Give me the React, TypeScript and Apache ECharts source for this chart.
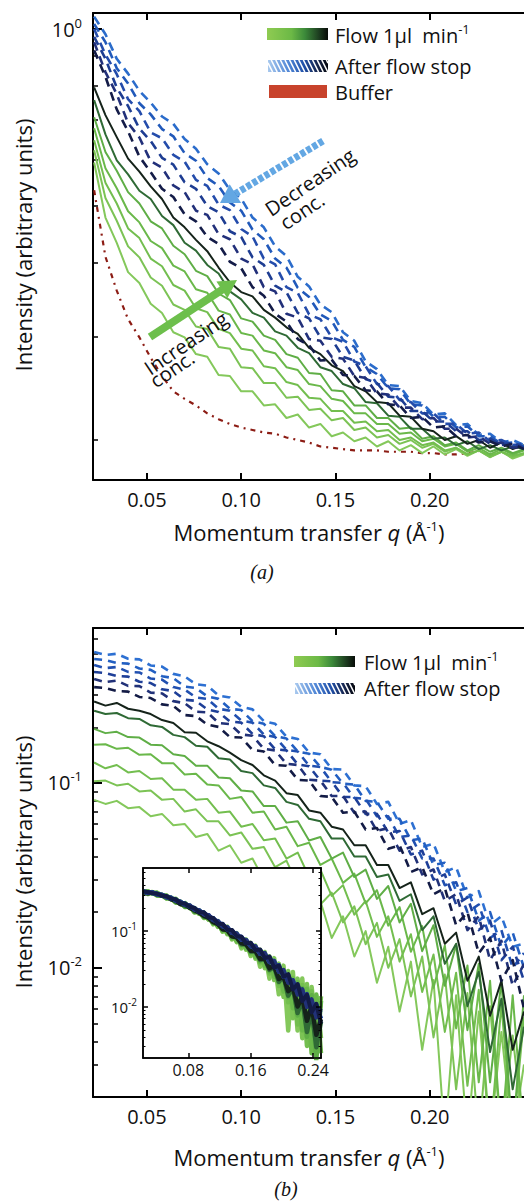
import { useEffect, useRef } from 'react';
import * as echarts from 'echarts';

// ---------- shared q grid (Å^-1) ----------
const q = [0.022, 0.028, 0.034, 0.040, 0.046, 0.052, 0.058, 0.064, 0.070, 0.076, 0.082, 0.088, 0.094, 0.100, 0.106, 0.112, 0.118, 0.124, 0.130, 0.136, 0.142, 0.148, 0.154, 0.160, 0.166, 0.172, 0.178, 0.184, 0.190, 0.196, 0.202, 0.208, 0.214, 0.220, 0.226, 0.232, 0.238, 0.244, 0.250];

// ---------- panel (a) ----------
const aBuffer = [0.532, 0.410, 0.359, 0.321, 0.299, 0.276, 0.257, 0.242, 0.235, 0.229, 0.222, 0.217, 0.213, 0.210, 0.208, 0.206, 0.205, 0.202, 0.200, 0.198, 0.195, 0.194, 0.193, 0.192, 0.192, 0.192, 0.191, 0.191, 0.191, 0.190, 0.190, 0.189, 0.189, 0.190, 0.191];
const aG1 = [0.593, 0.478, 0.433, 0.386, 0.370, 0.341, 0.329, 0.305, 0.299, 0.280, 0.277, 0.258, 0.257, 0.242, 0.242, 0.229, 0.230, 0.218, 0.221, 0.210, 0.213, 0.203, 0.206, 0.199, 0.202, 0.195, 0.199, 0.192, 0.196, 0.190, 0.195, 0.189, 0.193, 0.188, 0.192, 0.187, 0.191, 0.186, 0.189];
const aG2 = [0.622, 0.516, 0.472, 0.427, 0.409, 0.378, 0.366, 0.340, 0.333, 0.312, 0.309, 0.288, 0.286, 0.266, 0.265, 0.250, 0.250, 0.236, 0.237, 0.225, 0.226, 0.216, 0.218, 0.208, 0.210, 0.202, 0.204, 0.197, 0.200, 0.194, 0.197, 0.191, 0.194, 0.189, 0.192, 0.187, 0.191, 0.187, 0.190];
const aG3 = [0.647, 0.548, 0.505, 0.458, 0.441, 0.407, 0.395, 0.367, 0.359, 0.335, 0.330, 0.309, 0.304, 0.286, 0.284, 0.267, 0.265, 0.251, 0.248, 0.236, 0.235, 0.224, 0.224, 0.214, 0.215, 0.207, 0.208, 0.200, 0.202, 0.196, 0.198, 0.192, 0.194, 0.189, 0.192, 0.188, 0.191, 0.188, 0.190];
const aG4 = [0.678, 0.580, 0.536, 0.490, 0.469, 0.436, 0.424, 0.396, 0.387, 0.361, 0.356, 0.332, 0.327, 0.304, 0.301, 0.284, 0.281, 0.266, 0.263, 0.249, 0.247, 0.235, 0.233, 0.222, 0.222, 0.213, 0.213, 0.205, 0.206, 0.199, 0.201, 0.195, 0.197, 0.191, 0.194, 0.189, 0.193, 0.189, 0.192];
const aG5 = [0.708, 0.618, 0.574, 0.528, 0.505, 0.471, 0.458, 0.428, 0.414, 0.388, 0.380, 0.355, 0.346, 0.322, 0.318, 0.301, 0.296, 0.280, 0.276, 0.260, 0.259, 0.243, 0.242, 0.229, 0.229, 0.218, 0.218, 0.209, 0.210, 0.201, 0.203, 0.196, 0.198, 0.192, 0.196, 0.191, 0.194, 0.190, 0.193];
const aDark = [0.757, 0.662, 0.598, 0.566, 0.531, 0.514, 0.481, 0.464, 0.433, 0.420, 0.397, 0.384, 0.358, 0.347, 0.329, 0.323, 0.306, 0.301, 0.287, 0.281, 0.266, 0.262, 0.249, 0.245, 0.232, 0.231, 0.220, 0.219, 0.209, 0.209, 0.201, 0.202, 0.196, 0.199, 0.193, 0.196, 0.192, 0.195, 0.193];
const aBlack = [0.796, 0.714, 0.655, 0.602, 0.572, 0.540, 0.514, 0.478, 0.460, 0.438, 0.419, 0.393, 0.371, 0.357, 0.351, 0.333, 0.323, 0.311, 0.303, 0.287, 0.280, 0.268, 0.262, 0.247, 0.242, 0.232, 0.231, 0.220, 0.219, 0.209, 0.207, 0.200, 0.203, 0.197, 0.200, 0.194, 0.198, 0.193, 0.196];
const aD1 = [1.05, 0.98, 0.89, 0.84, 0.785, 0.75, 0.71, 0.69, 0.65, 0.626, 0.589, 0.568, 0.533, 0.515, 0.478, 0.460, 0.427, 0.411, 0.379, 0.365, 0.340, 0.330, 0.305, 0.295, 0.272, 0.264, 0.248, 0.247, 0.233, 0.231, 0.221, 0.222, 0.212, 0.213, 0.204, 0.205, 0.198, 0.200, 0.196];
const aD2 = [1.02, 0.95, 0.858, 0.808, 0.748, 0.716, 0.676, 0.657, 0.615, 0.597, 0.558, 0.541, 0.507, 0.491, 0.456, 0.439, 0.407, 0.393, 0.363, 0.350, 0.327, 0.319, 0.296, 0.288, 0.266, 0.259, 0.245, 0.244, 0.230, 0.229, 0.219, 0.219, 0.210, 0.211, 0.203, 0.203, 0.197, 0.198, 0.195];
const aD3 = [1.00, 0.905, 0.838, 0.760, 0.725, 0.667, 0.652, 0.611, 0.595, 0.554, 0.541, 0.503, 0.492, 0.457, 0.444, 0.407, 0.398, 0.364, 0.356, 0.327, 0.321, 0.299, 0.294, 0.272, 0.267, 0.249, 0.247, 0.234, 0.232, 0.222, 0.222, 0.213, 0.213, 0.205, 0.206, 0.199, 0.200, 0.196, 0.197];
const aD4 = [0.97, 0.89, 0.795, 0.740, 0.677, 0.645, 0.604, 0.588, 0.549, 0.535, 0.500, 0.488, 0.453, 0.443, 0.409, 0.397, 0.366, 0.357, 0.329, 0.322, 0.299, 0.297, 0.277, 0.273, 0.254, 0.250, 0.237, 0.236, 0.224, 0.224, 0.215, 0.215, 0.207, 0.207, 0.200, 0.201, 0.196, 0.198, 0.194];
const aD5 = [0.95, 0.845, 0.775, 0.692, 0.654, 0.596, 0.581, 0.542, 0.528, 0.491, 0.483, 0.448, 0.439, 0.407, 0.398, 0.364, 0.358, 0.328, 0.323, 0.297, 0.295, 0.277, 0.275, 0.257, 0.255, 0.240, 0.239, 0.227, 0.227, 0.217, 0.218, 0.209, 0.209, 0.202, 0.203, 0.197, 0.198, 0.194, 0.195];
const aD6 = [0.92, 0.83, 0.73, 0.67, 0.607, 0.571, 0.535, 0.518, 0.484, 0.471, 0.443, 0.431, 0.402, 0.392, 0.364, 0.352, 0.328, 0.318, 0.297, 0.290, 0.273, 0.274, 0.258, 0.257, 0.243, 0.242, 0.230, 0.229, 0.218, 0.219, 0.210, 0.211, 0.203, 0.204, 0.198, 0.199, 0.195, 0.197, 0.193];

// ---------- panel (b) ----------
const bG1 = [0.081, 0.077, 0.080, 0.073, 0.074, 0.066, 0.068, 0.059, 0.060, 0.051, 0.053, 0.043, 0.046, 0.037, 0.039, 0.030, 0.033, 0.024, 0.028, 0.019, 0.023, 0.0145, 0.019, 0.0115, 0.0158, 0.0083, 0.013, 0.0058, 0.0108, 0.0036, 0.0086, 0.0012, 0.0071, 0.0012, 0.0058, 0.0012, 0.0045, 0.0012, 0.003];
const bG2 = [0.102, 0.103, 0.097, 0.099, 0.090, 0.091, 0.081, 0.082, 0.070, 0.072, 0.062, 0.062, 0.052, 0.054, 0.044, 0.045, 0.035, 0.038, 0.028, 0.031, 0.022, 0.0255, 0.0176, 0.0215, 0.0134, 0.0175, 0.010, 0.0143, 0.007, 0.0115, 0.0042, 0.0092, 0.0022, 0.0073, 0.0012, 0.0062, 0.0012, 0.0043, 0.0012];
const bG3 = [0.129, 0.120, 0.125, 0.114, 0.116, 0.105, 0.106, 0.092, 0.092, 0.081, 0.082, 0.069, 0.070, 0.058, 0.060, 0.049, 0.050, 0.039, 0.042, 0.031, 0.034, 0.0245, 0.028, 0.0194, 0.023, 0.0147, 0.019, 0.0108, 0.0152, 0.0074, 0.0118, 0.0045, 0.0094, 0.0023, 0.0076, 0.0012, 0.0063, 0.0012, 0.0054];
const bG4 = [0.161, 0.162, 0.153, 0.155, 0.142, 0.143, 0.128, 0.128, 0.111, 0.112, 0.098, 0.097, 0.082, 0.084, 0.069, 0.070, 0.056, 0.058, 0.0455, 0.0475, 0.036, 0.039, 0.0288, 0.0323, 0.0223, 0.0263, 0.0169, 0.0213, 0.0122, 0.0168, 0.0078, 0.0132, 0.0047, 0.0103, 0.0024, 0.0085, 0.0012, 0.0071, 0.0012];
const bG5 = [0.196, 0.186, 0.189, 0.177, 0.176, 0.161, 0.160, 0.143, 0.140, 0.124, 0.124, 0.107, 0.106, 0.091, 0.090, 0.075, 0.075, 0.061, 0.062, 0.0488, 0.051, 0.039, 0.042, 0.031, 0.034, 0.0236, 0.0277, 0.0176, 0.0222, 0.0123, 0.017, 0.008, 0.0133, 0.0046, 0.0105, 0.0024, 0.0085, 0.0012, 0.0071];
const bDark = [0.246, 0.236, 0.239, 0.224, 0.222, 0.205, 0.201, 0.182, 0.177, 0.159, 0.157, 0.136, 0.134, 0.116, 0.113, 0.097, 0.094, 0.079, 0.076, 0.064, 0.062, 0.050, 0.050, 0.040, 0.040, 0.031, 0.032, 0.023, 0.025, 0.016, 0.019, 0.0105, 0.0135, 0.0062, 0.0095, 0.0035, 0.0068, 0.0022, 0.0048];
const bBlack = [0.276, 0.262, 0.271, 0.252, 0.246, 0.236, 0.219, 0.211, 0.188, 0.187, 0.168, 0.158, 0.146, 0.133, 0.125, 0.110, 0.103, 0.088, 0.086, 0.071, 0.069, 0.058, 0.056, 0.046, 0.046, 0.036, 0.036, 0.027, 0.029, 0.0195, 0.021, 0.0135, 0.0155, 0.0085, 0.0115, 0.0055, 0.0085, 0.0036, 0.0058];
const bD1 = [0.511, 0.492, 0.500, 0.470, 0.466, 0.432, 0.426, 0.389, 0.377, 0.342, 0.336, 0.297, 0.290, 0.258, 0.250, 0.216, 0.209, 0.178, 0.173, 0.146, 0.143, 0.119, 0.118, 0.097, 0.096, 0.077, 0.079, 0.060, 0.063, 0.045, 0.047, 0.033, 0.035, 0.024, 0.026, 0.017, 0.019, 0.013, 0.0135];
const bD2 = [0.468, 0.462, 0.446, 0.442, 0.416, 0.409, 0.378, 0.369, 0.332, 0.326, 0.294, 0.285, 0.252, 0.248, 0.216, 0.209, 0.179, 0.174, 0.148, 0.144, 0.122, 0.118, 0.099, 0.098, 0.080, 0.079, 0.064, 0.064, 0.049, 0.050, 0.036, 0.037, 0.026, 0.027, 0.018, 0.020, 0.013, 0.0155, 0.010];
const bD3 = [0.434, 0.418, 0.424, 0.399, 0.396, 0.367, 0.362, 0.330, 0.320, 0.290, 0.285, 0.252, 0.246, 0.218, 0.212, 0.183, 0.177, 0.151, 0.148, 0.124, 0.122, 0.101, 0.100, 0.083, 0.082, 0.066, 0.066, 0.051, 0.052, 0.039, 0.039, 0.028, 0.029, 0.020, 0.022, 0.0145, 0.016, 0.010, 0.012];
const bD4 = [0.398, 0.393, 0.379, 0.376, 0.353, 0.347, 0.321, 0.314, 0.282, 0.278, 0.250, 0.242, 0.215, 0.212, 0.184, 0.179, 0.152, 0.150, 0.126, 0.123, 0.103, 0.102, 0.084, 0.084, 0.068, 0.068, 0.054, 0.055, 0.041, 0.043, 0.030, 0.032, 0.022, 0.024, 0.016, 0.018, 0.011, 0.013, 0.0085];
const bD5 = [0.365, 0.351, 0.358, 0.335, 0.334, 0.308, 0.305, 0.277, 0.270, 0.243, 0.241, 0.211, 0.208, 0.183, 0.180, 0.153, 0.150, 0.127, 0.125, 0.104, 0.103, 0.085, 0.085, 0.069, 0.070, 0.055, 0.057, 0.043, 0.045, 0.032, 0.034, 0.023, 0.025, 0.016, 0.019, 0.011, 0.014, 0.008, 0.0105];
const bD6 = [0.330, 0.326, 0.314, 0.312, 0.292, 0.288, 0.266, 0.261, 0.233, 0.230, 0.207, 0.201, 0.177, 0.176, 0.151, 0.148, 0.125, 0.124, 0.104, 0.103, 0.085, 0.084, 0.069, 0.070, 0.056, 0.057, 0.044, 0.046, 0.033, 0.035, 0.025, 0.027, 0.017, 0.020, 0.012, 0.0145, 0.0085, 0.011, 0.006];

// inset: every panel (b) curve rescaled to this common start intensity
const insetStart = 0.33;

// ---------- ticks ----------
const xTicks = [0.05, 0.1, 0.15, 0.2];
const aMinor = [0.2, 0.3, 0.4, 0.5, 0.6, 0.7, 0.8, 0.9];
const aMajor = [1];
const bMinor = [0.003, 0.004, 0.005, 0.006, 0.007, 0.008, 0.009, 0.02, 0.03, 0.04, 0.05, 0.06, 0.07, 0.08, 0.09, 0.2, 0.3, 0.4, 0.5, 0.6];
const bMajor = [0.01, 0.1];
const insetXTicks = [0.08, 0.16, 0.24];

// colours
const greenCols = ['#84c85b', '#7cc355', '#73be4f', '#6ab84a', '#5fae46'];
const darkGreen = '#2f6a35';
const nearBlack = '#15231a';
const blueColsA = ['#2b6ccb', '#2159ba', '#244cab', '#1e3d92', '#22307a', '#141c48'];
const blueColsB = ['#2d70d2', '#225fc2', '#2150b0', '#1e3f98', '#213178', '#131b45'];

const FONT = '"Open Sans", "Noto Sans", sans-serif';
const INK = '#111';

export default function App() {
  const ref = useRef<HTMLDivElement>(null);

  useEffect(() => {
    if (!ref.current) return;
    const chart = echarts.init(ref.current, null, { renderer: 'svg' });

    const pairs = (arr: number[]) => arr.map((v, i) => [q[i], v]);
    const norm = (arr: number[]) => arr.map((v, i) => [q[i], (v * insetStart) / arr[0]]);
    const line = (data: number[][], xi: number, yi: number, color: string, width: number, type: any = 'solid', z = 2) => ({
      type: 'line', xAxisIndex: xi, yAxisIndex: yi, data, showSymbol: false, symbol: 'none', silent: true, z,
      lineStyle: { color, width, type, cap: 'butt', join: 'round' }, emphasis: { disabled: true },
    });

    const logFmt = (v: number) => `{n|10}{s|${Math.round(Math.log10(v))}}`;
    const richBig = {
      n: { fontSize: 20, fontFamily: FONT, color: INK, lineHeight: 26 },
      s: { fontSize: 13, fontFamily: FONT, color: INK, lineHeight: 12, verticalAlign: 'top' },
    };
    const richSmall = {
      n: { fontSize: 15, fontFamily: FONT, color: INK, lineHeight: 20 },
      s: { fontSize: 10, fontFamily: FONT, color: INK, lineHeight: 9, verticalAlign: 'top' },
    };

    const axLine = (w: number) => ({ show: true, onZero: false, lineStyle: { color: '#000', width: w } });
    const XMIN = 0.0214, XMAX = 0.25;

    const xMain = (grid: number, pos: string, labels: boolean) => ({
      type: 'value', gridIndex: grid, position: pos, min: XMIN, max: XMAX,
      axisLine: axLine(2),
      axisTick: { show: true, inside: true, length: 7, lineStyle: { color: '#000', width: 2 }, customValues: xTicks },
      axisLabel: labels
        ? { show: true, customValues: xTicks, formatter: (v: number) => v.toFixed(2), fontSize: 20, fontFamily: FONT, color: INK, margin: 9 }
        : { show: false },
      splitLine: { show: false },
    });
    const xInset = (pos: string, labels: boolean) => ({
      type: 'value', gridIndex: 2, position: pos, min: 0.022, max: 0.25, z: 12,
      axisLine: axLine(1.5),
      axisTick: { show: true, inside: true, length: 5, lineStyle: { color: '#000', width: 1.5 }, customValues: insetXTicks },
      axisLabel: labels
        ? { show: true, customValues: insetXTicks, formatter: (v: number) => v.toFixed(2), fontSize: 16, fontFamily: FONT, color: INK, margin: 4 }
        : { show: false },
      splitLine: { show: false },
    });
    const yLog = (grid: number, pos: string, min: number, max: number, ticks: number[], len: number, w: number, showLine: boolean, labels: any, z = 0) => ({
      type: 'log', logBase: 10, gridIndex: grid, position: pos, min, max, z,
      axisLine: showLine ? axLine(grid === 2 ? 1.5 : 2) : { show: false },
      axisTick: { show: true, inside: true, length: len, lineStyle: { color: '#000', width: w }, customValues: ticks },
      axisLabel: labels || { show: false },
      splitLine: { show: false },
      minorTick: { show: false },
    });

    const A_MIN = 0.171, A_MAX = 1.065;
    const B_MIN = 0.002, B_MAX = 0.689;
    const I_MIN = 0.00213, I_MAX = 0.675;
    const insetMinor = bMinor;

    const series: any[] = [];
    // panel a
    series.push(line(pairs(aBuffer), 0, 0, '#8c1c14', 2.2, [5, 5, 2, 5]));
    [aG1, aG2, aG3, aG4, aG5].forEach((a, i) => series.push(line(pairs(a), 0, 0, greenCols[i], 2)));
    series.push(line(pairs(aDark), 0, 0, darkGreen, 2));
    series.push(line(pairs(aBlack), 0, 0, nearBlack, 2));
    [aD1, aD2, aD3, aD4, aD5, aD6].forEach((a, i) => series.push(line(pairs(a), 0, 0, blueColsA[i], 2.6, [9, 6])));
    // panel b
    const bGreens = [bG1, bG2, bG3, bG4, bG5];
    const bBlues = [bD1, bD2, bD3, bD4, bD5, bD6];
    bGreens.forEach((a, i) => series.push(line(pairs(a), 2, 2, greenCols[i], 2)));
    series.push(line(pairs(bDark), 2, 2, darkGreen, 2));
    series.push(line(pairs(bBlack), 2, 2, nearBlack, 2));
    bBlues.forEach((a, i) => series.push(line(pairs(a), 2, 2, blueColsB[i], 2.6, [8, 6])));
    // inset
    bGreens.forEach((a, i) => series.push(line(norm(a), 4, 4, greenCols[i], 4.5, 'solid', 11)));
    series.push(line(norm(bDark), 4, 4, darkGreen, 4.5, 'solid', 11));
    series.push(line(norm(bBlack), 4, 4, nearBlack, 4.5, 'solid', 11));
    bBlues.forEach((a, i) => series.push(line(norm(a), 4, 4, blueColsB[i], 4, 'solid', 11)));

    // ----- graphics -----
    const greenGrad = { type: 'linear', x: 0, y: 0, x2: 1, y2: 0, colorStops: [
      { offset: 0, color: '#8fcb52' }, { offset: 0.4, color: '#6cb946' }, { offset: 0.62, color: '#3c8a3a' },
      { offset: 0.85, color: '#1d3d20' }, { offset: 1, color: '#080c08' }] };
    const hatchGrad = { type: 'linear', x: 0, y: 0, x2: 1, y2: 0, colorStops: [
      { offset: 0, color: '#a9c9ee' }, { offset: 0.35, color: '#4f86d6' }, { offset: 0.6, color: '#1f4fa8' },
      { offset: 0.82, color: '#17264f' }, { offset: 1, color: '#05070c' }] };
    const Z = 100;
    const hatch = (x: number, y: number, w: number, h: number) => {
      const els: any[] = [{ type: 'rect', z: Z, shape: { x, y, width: w, height: h }, style: { fill: hatchGrad } }];
      const slant = h * 0.5, step = 4.6;
      for (let x0 = x - slant; x0 < x + w; x0 += step) {
        const t0 = Math.max(0, (x - x0) / slant), t1 = Math.min(1, (x + w - x0) / slant);
        if (t1 <= t0) continue;
        els.push({ type: 'line', z: Z + 1, shape: { x1: x0 + slant * t0, y1: y + h * t0, x2: x0 + slant * t1, y2: y + h * t1 },
          style: { stroke: '#fff', lineWidth: 1.6 } });
      }
      return els;
    };
    const txt = (text: string, x: number, y: number, opts: any = {}) => ({
      type: 'text', z: Z, x, y, rotation: opts.rotation || 0,
      style: {
        text, fontSize: opts.fontSize || 20, fontFamily: opts.fontFamily || FONT, fontStyle: opts.fontStyle || 'normal',
        fill: INK, align: opts.align || 'left', verticalAlign: 'middle', lineHeight: opts.lineHeight || 26,
        rich: {
          s: { fontSize: 13, fontFamily: FONT, fill: INK, lineHeight: 12, verticalAlign: 'top' },
          i: { fontSize: opts.fontSize || 20, fontFamily: FONT, fontStyle: 'italic', fill: INK, lineHeight: 26 },
        },
      },
    });
    const rot = (34 * Math.PI) / 180;
    const xTitle = 'Momentum transfer {i|q} (Å{s|-1})';
    const yTitle = 'Intensity (arbitrary units)';

    const graphics: any[] = [
      // legend (a)
      { type: 'rect', z: Z, shape: { x: 267, y: 28, width: 61, height: 12 }, style: { fill: greenGrad } },
      txt('Flow 1µl  min{s|-1}', 335, 35),
      ...hatch(268, 60, 60, 12),
      txt('After flow stop', 335, 66),
      { type: 'rect', z: Z, shape: { x: 269, y: 85, width: 58, height: 13 }, style: { fill: '#c8432c' } },
      txt('Buffer', 335, 92),
      // legend (b)
      { type: 'rect', z: Z, shape: { x: 294, y: 656, width: 61, height: 11 }, style: { fill: greenGrad } },
      txt('Flow 1µl  min{s|-1}', 364, 662),
      ...hatch(295, 683, 60, 11),
      txt('After flow stop', 364, 688),
      // arrows (a)
      { type: 'line', z: Z, shape: { x1: 150, y1: 337, x2: 222.5, y2: 289.5 }, style: { stroke: '#6dbf4c', lineWidth: 8 } },
      { type: 'polygon', z: Z, shape: { points: [[237, 280], [227.4, 298.3], [216.4, 281.5]] }, style: { fill: '#6dbf4c' } },
      { type: 'line', z: Z, shape: { x1: 323, y1: 141, x2: 235.4, y2: 193.7 }, style: { stroke: '#63a7e3', lineWidth: 7, lineDash: [5, 2] } },
      { type: 'polygon', z: Z, shape: { points: [[220, 203], [241.1, 203.1], [229.7, 184.3]] }, style: { fill: '#63a7e3' } },
      txt('Increasing', 186, 343, { align: 'center', rotation: rot }),
      txt('conc.', 172, 369, { align: 'center', rotation: rot }),
      txt('Decreasing', 310, 182, { align: 'center', rotation: rot }),
      txt('conc.', 302, 211, { align: 'center', rotation: rot }),
      // axis titles
      txt(xTitle, 309, 532, { align: 'center', fontSize: 22 }),
      txt(yTitle, 23, 245, { align: 'center', fontSize: 22, rotation: Math.PI / 2 }),
      txt('(a)', 262, 572, { align: 'center', fontSize: 20, lineHeight: 20, fontFamily: '"Liberation Serif", serif', fontStyle: 'italic' }),
      txt(xTitle, 309, 1157, { align: 'center', fontSize: 22 }),
      txt(yTitle, 23, 862, { align: 'center', fontSize: 22, rotation: Math.PI / 2 }),
      txt('(b)', 286, 1189, { align: 'center', fontSize: 20, lineHeight: 20, fontFamily: '"Liberation Serif", serif', fontStyle: 'italic' }),
    ];

    chart.setOption({
      animation: false,
      backgroundColor: '#fff',
      grid: [
        { left: 93, top: 13, width: 439, height: 467 },
        { left: 93, top: 628, width: 439, height: 469 },
        { left: 143, top: 868, width: 178, height: 190, show: true, backgroundColor: '#fff', borderColor: '#000', borderWidth: 1.5, z: 10 },
      ],
      xAxis: [
        xMain(0, 'bottom', true), xMain(0, 'top', false),
        xMain(1, 'bottom', true), xMain(1, 'top', false),
        xInset('bottom', true), xInset('top', false),
      ],
      yAxis: [
        yLog(0, 'left', A_MIN, A_MAX, aMinor, 5, 1.5, true, null),
        yLog(0, 'left', A_MIN, A_MAX, aMajor, 9, 2, false, { show: true, customValues: aMajor, formatter: logFmt, rich: richBig, margin: 11 }),
        yLog(1, 'left', B_MIN, B_MAX, bMinor, 5, 1.5, true, null),
        yLog(1, 'left', B_MIN, B_MAX, bMajor, 9, 2, false, { show: true, customValues: bMajor, formatter: logFmt, rich: richBig, margin: 11 }),
        yLog(2, 'left', I_MIN, I_MAX, insetMinor, 2.5, 1, true, null, 12),
        yLog(2, 'left', I_MIN, I_MAX, bMajor, 5, 1.5, false, { show: true, customValues: bMajor, formatter: logFmt, rich: richSmall, margin: 6 }, 12),
        yLog(2, 'right', I_MIN, I_MAX, insetMinor, 2.5, 1, true, null, 12),
        yLog(2, 'right', I_MIN, I_MAX, bMajor, 5, 1.5, false, null, 12),
      ],
      series,
      graphic: { elements: graphics },
    } as any);

    return () => chart.dispose();
  }, []);

  return (
    <div
      ref={ref}
      style={{ position: 'absolute', left: 0, top: 0, width: 524, height: 1201, background: '#fff' }}
    />
  );
}
